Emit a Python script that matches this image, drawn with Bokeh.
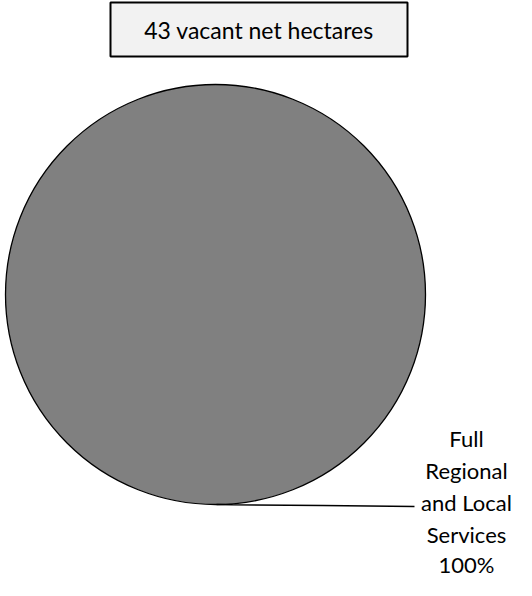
import math
from bokeh.plotting import figure
from bokeh.models import Range1d, ColumnDataSource
from bokeh.core.properties import value
from bokeh.embed import file_html
from bokeh.resources import INLINE

# ---- data ----
categories = ["Full Regional and Local Services"]
percentages = [100]
label_lines = ["Full", "Regional", "and Local", "Services", "100%"]
title_text = "43 vacant net hectares"

W, H = 516, 580
p = figure(width=W, height=H, output_backend="svg", toolbar_location=None,
           x_range=Range1d(8, 8 + W), y_range=Range1d(8 + H, 8),
           min_border=0, outline_line_color=None)
p.axis.visible = False
p.grid.visible = False
p.background_fill_color = "white"
p.border_fill_color = "white"

FONT = value("Lato")

# title box
p.quad(left=[118], right=[415], top=[10], bottom=[64],
       fill_color="#f2f2f2", line_color="black", line_width=2)
p.text(x=[266.5], y=[37], text=[title_text], text_font=FONT,
       text_font_size="23px", text_align="center", text_baseline="middle",
       text_color="black")

# pie
cx, cy, r = 223, 302, 210
total = sum(percentages)
starts, ends = [], []
acc = 0.0
for v in percentages:
    a0 = math.pi / 2 - 2 * math.pi * acc / total
    acc += v
    span = min(2 * math.pi * v / total, 2 * math.pi - 1e-4)
    starts.append(a0 - span)
    ends.append(a0)
src = ColumnDataSource(dict(x=[cx] * len(percentages), y=[cy] * len(percentages),
                            start=starts, end=ends, cat=categories))
p.wedge(x="x", y="y", radius=r, start_angle="start", end_angle="end",
        direction="anticlock", fill_color="#808080", line_color=None, source=src)
p.circle(x=[cx], y=[cy], radius=r, fill_color=None, line_color="black", line_width=1.3)

# leader line
p.line(x=[224, 240, 330, 422], y=[512, 512.3, 513, 514], line_color="black", line_width=1.5)

# label
ys = [446, 478, 510, 542, 572]
p.text(x=[474] * len(label_lines), y=ys, text=label_lines, text_font=FONT,
       text_font_size="22px", text_align="center", text_baseline="middle",
       text_color="black")

open("out.html", "w").write(file_html(p, INLINE))
